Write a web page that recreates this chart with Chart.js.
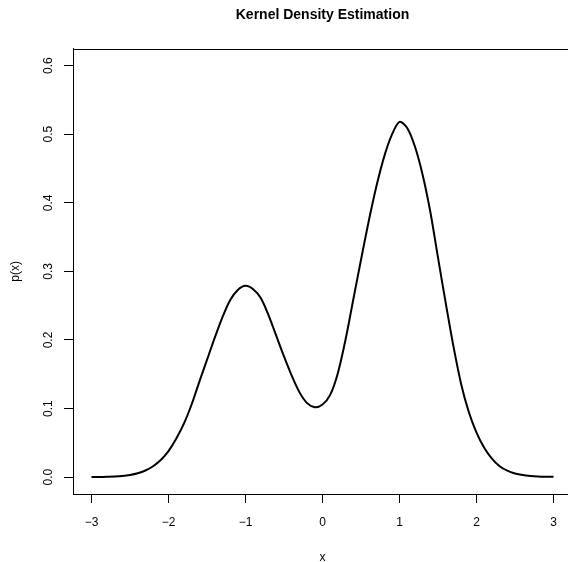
<!DOCTYPE html>
<html>
<head>
<meta charset="utf-8">
<script src="https://cdn.jsdelivr.net/npm/chart.js@4/dist/chart.umd.min.js"></script>
<style>
  html, body { margin: 0; padding: 0; overflow: hidden; background: #fff; }
</style>
</head>
<body>
<div style="width:574px;height:570px"><canvas id="kde" width="574" height="570"></canvas></div>
<script>
// grid of x values (step 0.1) and the density
var xVals = [-3.0, -2.9, -2.8, -2.7, -2.6, -2.5, -2.4, -2.3, -2.2, -2.1,
             -2.0, -1.9, -1.8, -1.7, -1.6, -1.5, -1.4, -1.3, -1.2, -1.1,
             -1.0, -0.9, -0.8, -0.7, -0.6, -0.5, -0.4, -0.3, -0.2, -0.1,
              0.0,  0.1,  0.2,  0.3,  0.4,  0.5,  0.6,  0.7,  0.8,  0.9,
              1.0,  1.1,  1.2,  1.3,  1.4,  1.5,  1.6,  1.7,  1.8,  1.9,
              2.0,  2.1,  2.2,  2.3,  2.4,  2.5,  2.6,  2.7,  2.8,  2.9, 3.0];
var density = [0.0001, 0.0002, 0.0005, 0.0009, 0.0017, 0.0032, 0.0057, 0.0098, 0.016, 0.025,
               0.038, 0.056, 0.078, 0.106, 0.139, 0.171, 0.203, 0.233, 0.258, 0.273,
               0.279, 0.274, 0.261, 0.236, 0.206, 0.176, 0.148, 0.124, 0.108, 0.102,
               0.106, 0.120, 0.152, 0.201, 0.259, 0.317, 0.373, 0.424, 0.467, 0.499,
               0.518, 0.509, 0.482, 0.441, 0.387, 0.320, 0.254, 0.191, 0.136, 0.095,
               0.065, 0.043, 0.027, 0.016, 0.0095, 0.0055, 0.0032, 0.0019, 0.0011, 0.0007, 0.0005];
var xTicks = [-3, -2, -1, 0, 1, 2, 3];
var yTicks = [0, 0.1, 0.2, 0.3, 0.4, 0.5, 0.6];

var pts = xVals.map(function (x, i) { return { x: x, y: density[i] }; });

Chart.defaults.font.family = "'Liberation Sans', Arial, sans-serif";
Chart.defaults.font.size = 12;
Chart.defaults.color = '#000';

// R style box around the plot region
var boxPlugin = {
    id: 'box',
    afterDraw: function (chart) {
        var a = chart.chartArea, c = chart.ctx;
        c.save();
        c.strokeStyle = '#000';
        c.lineWidth = 1;
        c.strokeRect(Math.round(a.left) + 0.5, Math.round(a.top) + 0.5,
                     Math.round(a.right - a.left), Math.round(a.bottom - a.top));
        c.restore();
    }
};

new Chart(document.getElementById('kde'), {
    type: 'line',
    data: {
        datasets: [{
            data: pts,
            borderColor: '#000',
            borderWidth: 2,
            pointRadius: 0,
            fill: false,
            tension: 0.3
        }]
    },
    options: {
        responsive: false,
        animation: false,
        layout: { padding: { left: 0, right: 2, top: 0, bottom: 0 } },
        plugins: {
            legend: { display: false },
            tooltip: { enabled: false },
            title: {
                display: true,
                text: 'Kernel Density Estimation',
                fullSize: false,
                color: '#000',
                font: { size: 14, weight: 'bold' },
                padding: { top: 7, bottom: 25 }
            }
        },
        scales: {
            x: {
                type: 'linear',
                min: -3.24,
                max: 3.24,
                afterBuildTicks: function (s) { s.ticks = xTicks.map(function (v) { return { value: v }; }); },
                afterFit: function (s) { s.height = 76; },
                ticks: {
                    padding: 12,
                    autoSkip: false,
                    maxRotation: 0,
                    callback: function (v) { return v < 0 ? '\u2212' + Math.abs(v) : String(v); }
                },
                grid: { drawOnChartArea: false, tickLength: 9, tickColor: '#000' },
                border: { color: '#000' },
                title: { display: true, text: 'x', padding: { top: 0, bottom: 5 } }
            },
            y: {
                min: -0.0245,
                max: 0.6245,
                afterBuildTicks: function (s) { s.ticks = yTicks.map(function (v) { return { value: v }; }); },
                afterFit: function (s) { s.width = 73; },
                ticks: {
                    padding: 7,
                    autoSkip: false,
                    minRotation: 90,
                    maxRotation: 90,
                    crossAlign: 'center',
                    callback: function (v) { return v.toFixed(1); }
                },
                grid: { drawOnChartArea: false, tickLength: 9, tickColor: '#000' },
                border: { color: '#000' },
                title: { display: true, text: 'p(x)', padding: { top: 8, bottom: 0 } }
            }
        }
    },
    plugins: [boxPlugin]
});
</script>
</body>
</html>
